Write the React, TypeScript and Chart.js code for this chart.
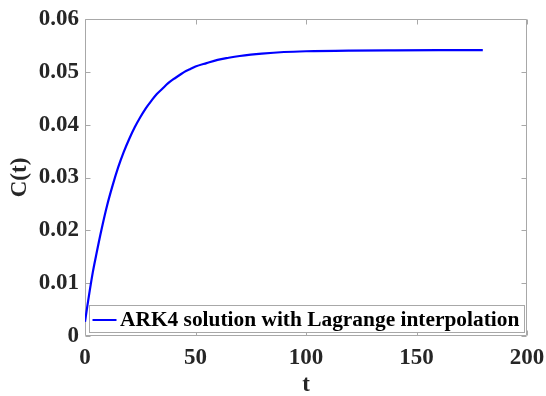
import React, { useEffect, useRef } from "react";
import { Chart, registerables } from "chart.js";

Chart.register(...registerables);

// Concentration C(t) sampled along the ARK4 solution
const tValues = [
  0, 1, 2, 3.5, 5, 7.5, 10, 12.5, 15, 17.5, 20, 22.5, 25, 27.5, 30, 32.5, 35, 37.5, 40, 42.5, 45,
  47.5, 50, 55, 60, 65, 70, 75, 80, 90, 100, 120, 140, 160, 180,
];
const cValues = [
  0.0027, 0.0055, 0.0082, 0.012, 0.0152, 0.0202, 0.0247, 0.0285, 0.0319, 0.0348, 0.0373, 0.0395,
  0.0414, 0.0431, 0.0445, 0.0458, 0.0468, 0.0478, 0.0486, 0.0493, 0.05, 0.0505, 0.051, 0.05165,
  0.05226, 0.05266, 0.053, 0.05326, 0.05346, 0.05375, 0.0539, 0.05403, 0.05408, 0.0541, 0.0541,
];
const xTicks = [0, 50, 100, 150, 200];
const yTicks = [0, 0.01, 0.02, 0.03, 0.04, 0.05, 0.06];
const seriesLabel = "ARK4 solution with Lagrange interpolation";

const FONT = "'Liberation Serif', 'Times New Roman', serif";
const TEXT = "#262626";
const FRAME = "#a8a8a8";

// Box around the axes with inward tick marks on every side
const framePlugin = {
  id: "frame",
  beforeDatasetsDraw(chart: any) {
    const { ctx, chartArea } = chart;
    const { left, right, top, bottom } = chartArea;
    const xs = chart.scales.x;
    const ys = chart.scales.y;
    const L = Math.round(left) + 0.5;
    const R = Math.round(right) - 0.5;
    const T = Math.round(top) + 0.5;
    const B = Math.round(bottom) - 0.5;
    const tick = 5;
    ctx.save();
    ctx.strokeStyle = FRAME;
    ctx.lineWidth = 1;
    ctx.beginPath();
    ctx.rect(L, T, R - L, B - T);
    xTicks.forEach((v) => {
      const px = Math.round(xs.getPixelForValue(v)) + 0.5;
      ctx.moveTo(px, B);
      ctx.lineTo(px, B - tick);
      ctx.moveTo(px, T);
      ctx.lineTo(px, T + tick);
    });
    yTicks.forEach((v) => {
      const py = Math.round(ys.getPixelForValue(v)) + 0.5;
      ctx.moveTo(L, py);
      ctx.lineTo(L + tick, py);
      ctx.moveTo(R, py);
      ctx.lineTo(R - tick, py);
    });
    ctx.stroke();
    ctx.restore();
  },
};

// Legend box in the lower part of the axes
const legendPlugin = {
  id: "boxLegend",
  afterDatasetsDraw(chart: any) {
    const { ctx, chartArea } = chart;
    const x0 = Math.round(chartArea.left) + 4.5;
    const x1 = Math.round(chartArea.right) - 2.5;
    const y0 = Math.round(chartArea.bottom) - 30.5;
    const y1 = Math.round(chartArea.bottom) - 3.5;
    const mid = (y0 + y1) / 2 + 1;
    ctx.save();
    ctx.fillStyle = "#ffffff";
    ctx.fillRect(x0, y0, x1 - x0, y1 - y0);
    ctx.strokeStyle = FRAME;
    ctx.lineWidth = 1;
    ctx.strokeRect(x0, y0, x1 - x0, y1 - y0);
    ctx.strokeStyle = "#0000ff";
    ctx.lineWidth = 2;
    ctx.beginPath();
    ctx.moveTo(x0 + 3, mid);
    ctx.lineTo(x0 + 27, mid);
    ctx.stroke();
    ctx.fillStyle = "#000000";
    ctx.font = `bold 21.4px ${FONT}`;
    ctx.textAlign = "left";
    ctx.textBaseline = "middle";
    ctx.fillText(seriesLabel, x0 + 30.5, mid);
    ctx.restore();
  },
};

export default function App() {
  const canvasRef = useRef<HTMLCanvasElement | null>(null);

  useEffect(() => {
    const canvas = canvasRef.current;
    if (!canvas) return;
    const chart = new Chart(canvas, {
      type: "line",
      data: {
        datasets: [
          {
            label: seriesLabel,
            data: tValues.map((t, i) => ({ x: t, y: cValues[i] })),
            borderColor: "#0000ff",
            borderWidth: 2.2,
            pointRadius: 0,
            fill: false,
            cubicInterpolationMode: "monotone",
          },
        ],
      },
      options: {
        responsive: false,
        animation: false,
        layout: { padding: { left: 0, top: 19, right: 19, bottom: 0 } },
        plugins: {
          legend: { display: false },
          tooltip: { enabled: false },
        },
        scales: {
          x: {
            type: "linear",
            min: 0,
            max: 200,
            afterFit: (scale: any) => {
              scale.height = 60;
              scale.paddingLeft = 0;
              scale.paddingRight = 0;
            },
            afterBuildTicks: (scale: any) => {
              scale.ticks = xTicks.map((v) => ({ value: v }));
            },
            grid: { display: false, drawTicks: false },
            border: { display: false },
            ticks: {
              padding: 8,
              color: TEXT,
              font: { family: FONT, size: 23, weight: "bold" },
              maxRotation: 0,
              callback: (v: any) => String(v),
            },
            title: {
              display: true,
              text: "t",
              color: TEXT,
              font: { family: FONT, size: 23, weight: "bold", lineHeight: 0.92 },
              padding: { top: 0, bottom: 0 },
            },
          },
          y: {
            type: "linear",
            min: 0,
            max: 0.06,
            afterFit: (scale: any) => {
              scale.width = 85;
              scale.paddingTop = 0;
              scale.paddingBottom = 0;
            },
            afterBuildTicks: (scale: any) => {
              scale.ticks = yTicks.map((v) => ({ value: v }));
            },
            grid: { display: false, drawTicks: false },
            border: { display: false },
            ticks: {
              padding: 6,
              color: TEXT,
              font: { family: FONT, size: 23, weight: "bold" },
              callback: (v: any) => (Number(v) === 0 ? "0" : Number(v).toFixed(2)),
            },
            title: {
              display: true,
              text: "C(t)",
              color: TEXT,
              font: { family: FONT, size: 23, weight: "bold", lineHeight: 1.2 },
              padding: { top: 6, bottom: 0 },
            },
          },
        },
      },
      plugins: [framePlugin, legendPlugin],
    } as any);
    return () => chart.destroy();
  }, []);

  return (
    <div style={{ position: "fixed", left: 0, top: 0, width: 546, height: 396, background: "#ffffff" }}>
      <canvas ref={canvasRef} width={546} height={396} style={{ display: "block" }} />
    </div>
  );
}
